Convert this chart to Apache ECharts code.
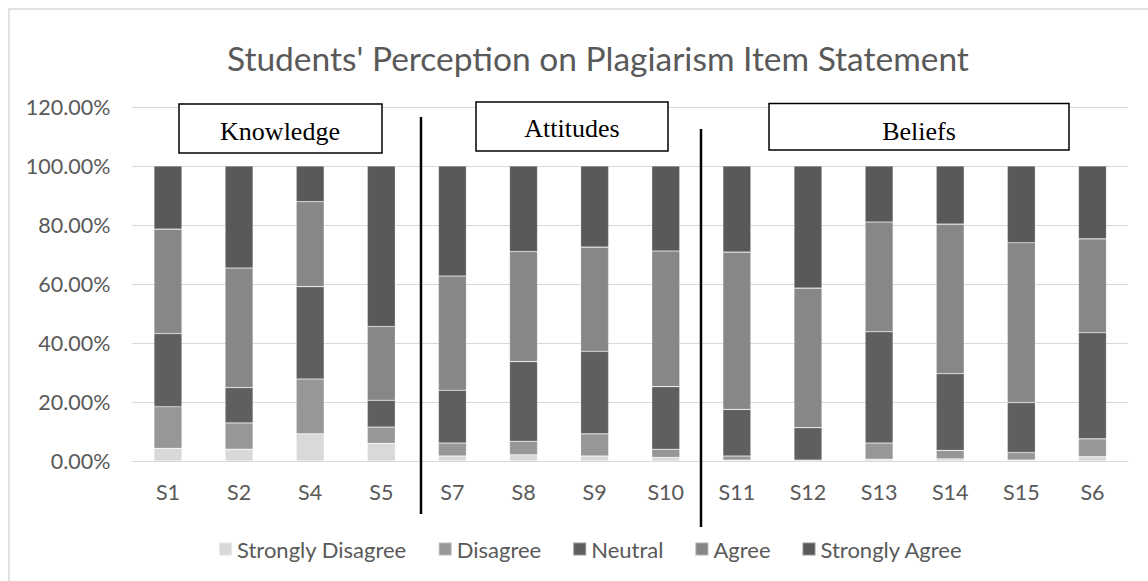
<!DOCTYPE html>
<html>
<head>
<meta charset="utf-8">
<script src="https://cdn.jsdelivr.net/npm/echarts@6/dist/echarts.min.js"></script>
<style>
  html, body { margin: 0; padding: 0; background: #fff; }
  #chart { width: 1148px; height: 581px; }
</style>
</head>
<body>
<div id="chart"></div>
<script>
var categories = ['S1', 'S2', 'S4', 'S5', 'S7', 'S8', 'S9', 'S10', 'S11', 'S12', 'S13', 'S14', 'S15', 'S6'];
var stronglyDisagree = [4.3, 4.0, 9.2, 6.0, 1.7, 2.1, 1.7, 1.2, 0.3, 0.0, 0.6, 0.7, 0.3, 1.5];
var disagree = [14.1, 8.9, 18.6, 5.5, 4.4, 4.6, 7.5, 2.8, 1.4, 0.3, 5.5, 2.9, 2.6, 6.0];
var neutral = [24.8, 12.0, 31.3, 9.1, 17.9, 27.0, 28.0, 21.2, 15.8, 11.0, 37.7, 26.0, 16.9, 36.0];
var agree = [35.4, 40.5, 28.8, 25.0, 38.7, 37.3, 35.3, 46.0, 53.3, 47.3, 37.2, 50.7, 54.2, 31.8];
var stronglyAgree = [21.4, 34.6, 12.1, 54.4, 37.3, 29.0, 27.5, 28.8, 29.2, 41.4, 19.0, 19.7, 26.0, 24.7];
var seriesNames = ['Strongly Disagree', 'Disagree', 'Neutral', 'Agree', 'Strongly Agree'];
var yTicks = { min: 0, max: 120, interval: 20 };

var colors = ['#d9d9d9', '#979797', '#5f5f5f', '#878787', '#595959'];
var font = 'Lato, "Open Sans", sans-serif';
var serif = '"Liberation Serif", "Times New Roman", serif';
var textGray = '#595959';

function bar(name, values, color) {
  return {
    name: name,
    type: 'bar',
    stack: 'total',
    barWidth: 28,
    data: values,
    itemStyle: { color: color, borderColor: 'rgba(255,255,255,0.35)', borderWidth: 0.6 }
  };
}

var chart = echarts.init(document.getElementById('chart'), null, { renderer: 'svg' });
chart.setOption({
  animation: false,
  color: colors,
  title: {
    text: "Students' Perception on Plagiarism Item Statement",
    left: 222,
    top: 36,
    textStyle: { fontFamily: font, fontSize: 33.5, fontWeight: 'normal', color: textGray }
  },
  legend: {
    data: seriesNames,
    left: 213,
    top: 533,
    icon: 'rect',
    itemWidth: 13,
    itemHeight: 13,
    itemGap: 31,
    textStyle: { fontFamily: font, fontSize: 22, color: textGray }
  },
  grid: { left: 132.4, right: 20, top: 107, bottom: 120, containLabel: false },
  xAxis: {
    type: 'category',
    data: categories,
    axisLine: { lineStyle: { color: '#d9d9d9', width: 1 } },
    axisTick: { show: false },
    axisLabel: { fontFamily: font, fontSize: 21.5, color: textGray, margin: 20 }
  },
  yAxis: {
    type: 'value',
    min: yTicks.min,
    max: yTicks.max,
    interval: yTicks.interval,
    axisLine: { show: false },
    axisTick: { show: false },
    splitLine: { lineStyle: { color: '#d9d9d9', width: 1 } },
    axisLabel: {
      fontFamily: font, fontSize: 21.5, color: textGray, margin: 22,
      formatter: function(v) { return v.toFixed(2) + '%'; }
    }
  },
  series: [
    bar(seriesNames[0], stronglyDisagree, colors[0]),
    bar(seriesNames[1], disagree, colors[1]),
    bar(seriesNames[2], neutral, colors[2]),
    bar(seriesNames[3], agree, colors[3]),
    bar(seriesNames[4], stronglyAgree, colors[4])
  ],
  graphic: [
    // outer chart frame (right and bottom edges fall outside the picture)
    { type: 'rect', shape: { x: 9, y: 9, width: 1200, height: 640 }, style: { fill: 'none', stroke: '#d9d9d9', lineWidth: 1.5 }, silent: true },
    // group boxes
    { type: 'rect', z: 10, shape: { x: 179, y: 104, width: 203, height: 49 }, style: { fill: '#fff', stroke: '#000', lineWidth: 1.5 } },
    { type: 'text', z: 11, x: 280, y: 131, style: { text: 'Knowledge', fontFamily: serif, fontSize: 26, fill: '#000', align: 'center', verticalAlign: 'middle' } },
    { type: 'rect', z: 10, shape: { x: 476, y: 102, width: 192, height: 49 }, style: { fill: '#fff', stroke: '#000', lineWidth: 1.5 } },
    { type: 'text', z: 11, x: 572, y: 128.5, style: { text: 'Attitudes', fontFamily: serif, fontSize: 26, fill: '#000', align: 'center', verticalAlign: 'middle' } },
    { type: 'rect', z: 10, shape: { x: 769, y: 103.5, width: 300, height: 46.5 }, style: { fill: '#fff', stroke: '#000', lineWidth: 1.5 } },
    { type: 'text', z: 11, x: 919, y: 131, style: { text: 'Beliefs', fontFamily: serif, fontSize: 26, fill: '#000', align: 'center', verticalAlign: 'middle' } },
    // divider lines
    { type: 'line', z: 10, shape: { x1: 421, y1: 117, x2: 421, y2: 514 }, style: { stroke: '#000', lineWidth: 2.5 } },
    { type: 'line', z: 10, shape: { x1: 701, y1: 129, x2: 701, y2: 527 }, style: { stroke: '#000', lineWidth: 2.5 } }
  ]
});
window.addEventListener('resize', function() { chart.resize(); });
</script>
</body>
</html>
